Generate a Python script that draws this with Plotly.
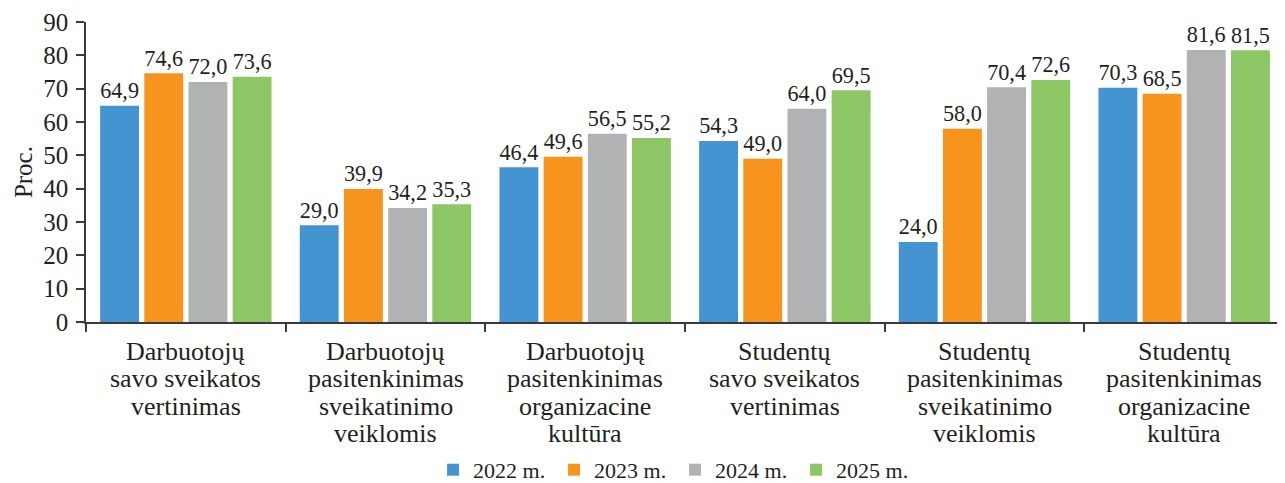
import plotly.graph_objects as go

category_lines = [
    ["Darbuotojų", "savo sveikatos", "vertinimas"],
    ["Darbuotojų", "pasitenkinimas", "sveikatinimo", "veiklomis"],
    ["Darbuotojų", "pasitenkinimas", "organizacine", "kultūra"],
    ["Studentų", "savo sveikatos", "vertinimas"],
    ["Studentų", "pasitenkinimas", "sveikatinimo", "veiklomis"],
    ["Studentų", "pasitenkinimas", "organizacine", "kultūra"],
]
categories = [" ".join(c) for c in category_lines]
series_names = ["2022 m.", "2023 m.", "2024 m.", "2025 m."]
v2022 = [64.9, 29.0, 46.4, 54.3, 24.0, 70.3]
v2023 = [74.6, 39.9, 49.6, 49.0, 58.0, 68.5]
v2024 = [72.0, 34.2, 56.5, 64.0, 70.4, 81.6]
v2025 = [73.6, 35.3, 55.2, 69.5, 72.6, 81.5]
y_ticks = [0, 10, 20, 30, 40, 50, 60, 70, 80, 90]
colors = ["#4394d0", "#f7941d", "#b1b2b4", "#8cc665"]

FONT = "Liberation Serif"
TXT = "#231f20"
AX = "#3a3a3a"

fig = go.Figure()
for name, vals, col in zip(series_names, [v2022, v2023, v2024, v2025], colors):
    fig.add_trace(go.Bar(
        x=categories, y=vals, name=name,
        marker=dict(color=col, line=dict(width=0)),
        text=[f"{v:.1f}".replace(".", ",") for v in vals],
        textposition="outside",
        textfont=dict(family=FONT, size=24, color=TXT),
        cliponaxis=False,
    ))

# multi-line category labels with tight line spacing
for cat, lines in zip(categories, category_lines):
    for i, line in enumerate(lines):
        fig.add_annotation(
            text=line, xref="x", yref="paper", x=cat, y=-0.097 - i * 0.0917,
            xanchor="center", yanchor="middle", showarrow=False,
            font=dict(family=FONT, size=26, color=TXT),
        )

fig.add_annotation(
    text="Proc.", xref="paper", yref="paper", x=-0.0525, y=0.5,
    xanchor="center", yanchor="middle", textangle=-90, showarrow=False,
    font=dict(family=FONT, size=25, color=TXT),
)

fig.update_layout(
    width=1277, height=475,
    margin=dict(l=78, r=1, t=14, b=161, autoexpand=False),
    paper_bgcolor="white", plot_bgcolor="white",
    barmode="group", bargap=0.115, bargroupgap=0.12,
    font=dict(family=FONT, size=24, color=TXT),
    showlegend=True,
    legend=dict(orientation="h", x=0.2897, xanchor="left", y=-0.493, yanchor="middle",
                font=dict(family=FONT, size=22, color=TXT), itemwidth=30,
                entrywidth=76, entrywidthmode="pixels",
                traceorder="normal"),
    xaxis=dict(
        showline=True, linecolor=AX, linewidth=1.5,
        ticks="outside", tickson="boundaries", ticklen=8, tickcolor=AX, tickwidth=1.5,
        showticklabels=False,
        showgrid=False, automargin=False,
    ),
    yaxis=dict(
        range=[0, 90], tickvals=y_ticks,
        showline=True, linecolor=AX, linewidth=1.5,
        ticks="outside", ticklen=8, tickcolor=AX, tickwidth=1.5,
        tickfont=dict(family=FONT, size=25, color=TXT), ticklabelstandoff=3,
        showgrid=False, zeroline=False, automargin=False,
    ),
)

fig.write_html("out.html")
